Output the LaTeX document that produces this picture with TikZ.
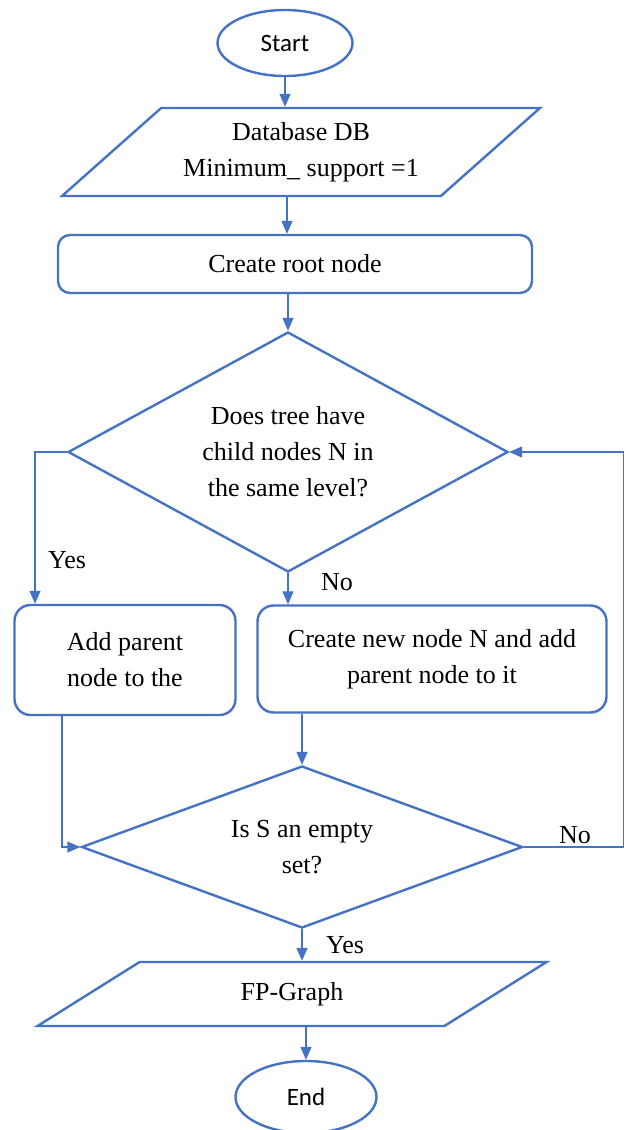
\documentclass[tikz,border=0pt]{standalone}
\usepackage{fontspec}
\setmainfont{Liberation Serif}
\newfontfamily\termfont{Carlito}
\usepackage{tikz}
\usetikzlibrary{shapes.geometric, arrows.meta, positioning}
\definecolor{FlowBlue}{RGB}{68,114,196}
\tikzstyle{terminal} = [ellipse, draw=FlowBlue, line width=2.4pt, inner sep=0pt, font=\termfont\fontsize{25}{30}\selectfont]
\tikzstyle{io} = [trapezium, trapezium stretches body, draw=FlowBlue, line width=2.4pt, align=center, inner sep=0pt]
\tikzstyle{process} = [rectangle, rounded corners=16pt, draw=FlowBlue, line width=2.4pt, align=center]
\tikzstyle{decision} = [diamond, draw=FlowBlue, line width=2.4pt, align=center, inner sep=0pt]
\tikzstyle{arrow} = [line width=1.4pt, FlowBlue, -{Triangle[length=13pt,width=11pt]}]

\begin{document}
\begin{tikzpicture}[x=1pt, y=-1pt, font=\fontsize{26}{36}\selectfont]
    \useasboundingbox (0,0) rectangle (626,1130);

    \node[terminal, minimum width=135pt, minimum height=66pt] (start) at (285,43) {Start};
    \node[io, minimum width=478pt, minimum height=88pt, trapezium left angle=31, trapezium right angle=149] (db) at (301,152) {Database DB\\Minimum\_ support =1};
    \node[process, rounded corners=12pt, minimum width=474pt, minimum height=58pt] (root) at (295,264) {Create root node};
    \node[decision, aspect=1.83, minimum width=440pt, minimum height=240pt] (childq) at (288,452) {Does tree have\\child nodes N in\\the same level?};
    \node[process, minimum width=221pt, minimum height=110pt] (addparent) at (125,660) {Add parent\\node to the};
    \node[process, minimum width=349pt, minimum height=107pt] (newnode) at (432,659) {Create new node N and add\\parent node to it};
    \node[decision, aspect=2.72, minimum width=441pt, minimum height=162pt] (emptyq) at (302,847) {Is S an empty\\set?};
    \node[io, minimum width=509pt, minimum height=64pt, trapezium left angle=13, trapezium right angle=167] (graph) at (292,994) {FP-Graph};
    \node[terminal, minimum width=141pt, minimum height=72pt] (stop) at (306,1097) {End};

    % branch labels
    \node (yesleft) at (67,560) {Yes};
    \node (nodown) at (337,582) {No};
    \node (noright) at (575,835) {No};
    \node (yesdown) at (345,945) {Yes};

    % connectors
    \draw[arrow] (start.south) -- (start.south |- db.north);
    \draw[arrow] ([xshift=-8pt]root.north |- db.south) -- ([xshift=-8pt]root.north);
    \draw[arrow] (childq.north |- root.south) -- (childq.north);
    \draw[arrow] (childq.west) -| ([xshift=-90pt]addparent.north);
    \draw[arrow] (childq.south) -- (childq.south |- newnode.north);
    \draw[arrow] (emptyq.north |- newnode.south) -- (emptyq.north);
    \draw[arrow] ([xshift=-63pt]addparent.south) |- (emptyq.west);
    \draw[arrow] (emptyq.east) -- ++(100,0) |- (childq.east);
    \draw[arrow] (emptyq.south) -- (emptyq.south |- graph.north);
    \draw[arrow] (stop.north |- graph.south) -- (stop.north);
\end{tikzpicture}
\end{document}
